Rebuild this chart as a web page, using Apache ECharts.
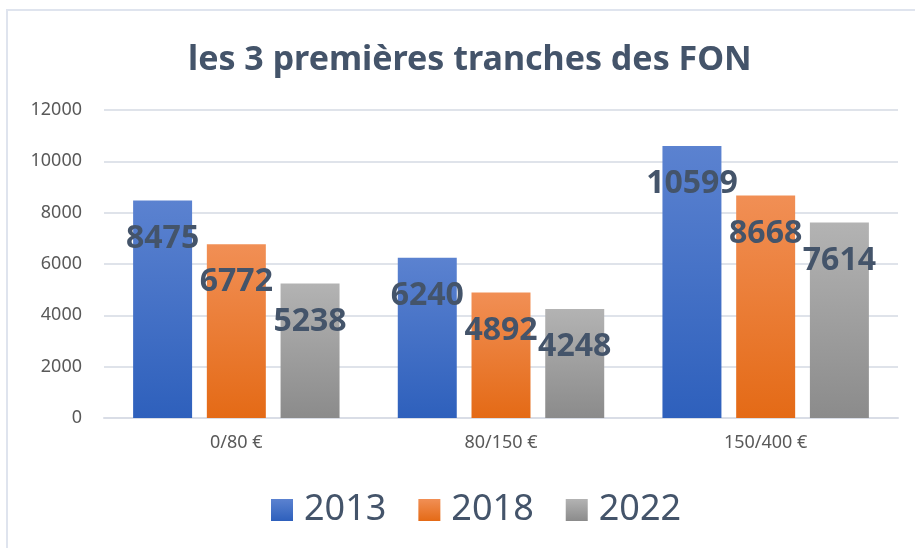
<!DOCTYPE html>
<html>
<head>
<meta charset="utf-8">
<script src="https://cdn.jsdelivr.net/npm/echarts@6/dist/echarts.min.js"></script>
<style>
  body { margin: 0; background: #fff; }
  #frame {
    position: absolute; left: 6px; top: 9px; width: 915px; height: 548px;
    border-left: 2px solid #dfe4ee; border-top: 2px solid #dfe4ee;
  }
  #chart { position: absolute; left: 0; top: 0; width: 915px; height: 548px; }
</style>
</head>
<body>
<div id="frame"></div>
<div id="chart"></div>
<script>
// données
const categories = ["0/80 €", "80/150 €", "150/400 €"];
const years = ["2013", "2018", "2022"];
const values2013 = [8475, 6240, 10599];
const values2018 = [6772, 4892, 8668];
const values2022 = [5238, 4248, 7614];

const chart = echarts.init(document.getElementById("chart"));

function grad(top, bottom) {
  return new echarts.graphic.LinearGradient(0, 0, 0, 1, [
    { offset: 0, color: top },
    { offset: 1, color: bottom },
  ]);
}

const colors = [
  grad("#5b82d0", "#2e60bc"),
  grad("#f18f55", "#e46a16"),
  grad("#b3b3b3", "#8b8b8b"),
];

const labelStyle = {
  show: true,
  position: "insideTop",
  distance: 22,
  fontFamily: "Noto Sans",
  fontWeight: "bold",
  fontSize: 32,
  color: "#44546a",
};

function makeSeries(name, data, i) {
  return {
    name: name,
    type: "bar",
    data: data,
    barGap: "25%",
    barCategoryGap: "22%",
    itemStyle: { color: colors[i] },
    label: labelStyle,
  };
}

const option = {
  animation: false,
  title: {
    text: "les 3 premières tranches des FON",
    left: 183,
    top: 38,
    textStyle: {
      fontFamily: "Noto Sans",
      fontWeight: "bold",
      fontSize: 34,
      color: "#44546a",
    },
  },
  legend: {
    bottom: 15,
    left: 266,
    itemWidth: 22,
    itemHeight: 22,
    itemGap: 32,
    icon: "rect",
    textStyle: {
      fontFamily: "Noto Sans",
      fontSize: 36,
      color: "#44546a",
      padding: [0, 0, 0, 6],
    },
    data: years,
  },
  grid: {
    left: 104,
    right: 17,
    top: 110,
    bottom: 130,
    containLabel: false,
  },
  xAxis: {
    type: "category",
    data: categories,
    axisTick: { show: false },
    axisLine: { lineStyle: { color: "#d9dde6", width: 2 } },
    axisLabel: {
      fontFamily: "Noto Sans",
      fontSize: 18,
      color: "#595959",
      margin: 16,
    },
  },
  yAxis: {
    type: "value",
    min: 0,
    max: 12000,
    interval: 2000,
    axisLine: { show: false },
    axisTick: { show: false },
    splitLine: { lineStyle: { color: "#dfe3ea", width: 2 } },
    axisLabel: {
      fontFamily: "Noto Sans",
      fontSize: 18,
      color: "#595959",
      margin: 22,
      formatter: (v) => String(v),
    },
  },
  series: [
    makeSeries(years[0], values2013, 0),
    makeSeries(years[1], values2018, 1),
    makeSeries(years[2], values2022, 2),
  ],
};

chart.setOption(option);
</script>
</body>
</html>
